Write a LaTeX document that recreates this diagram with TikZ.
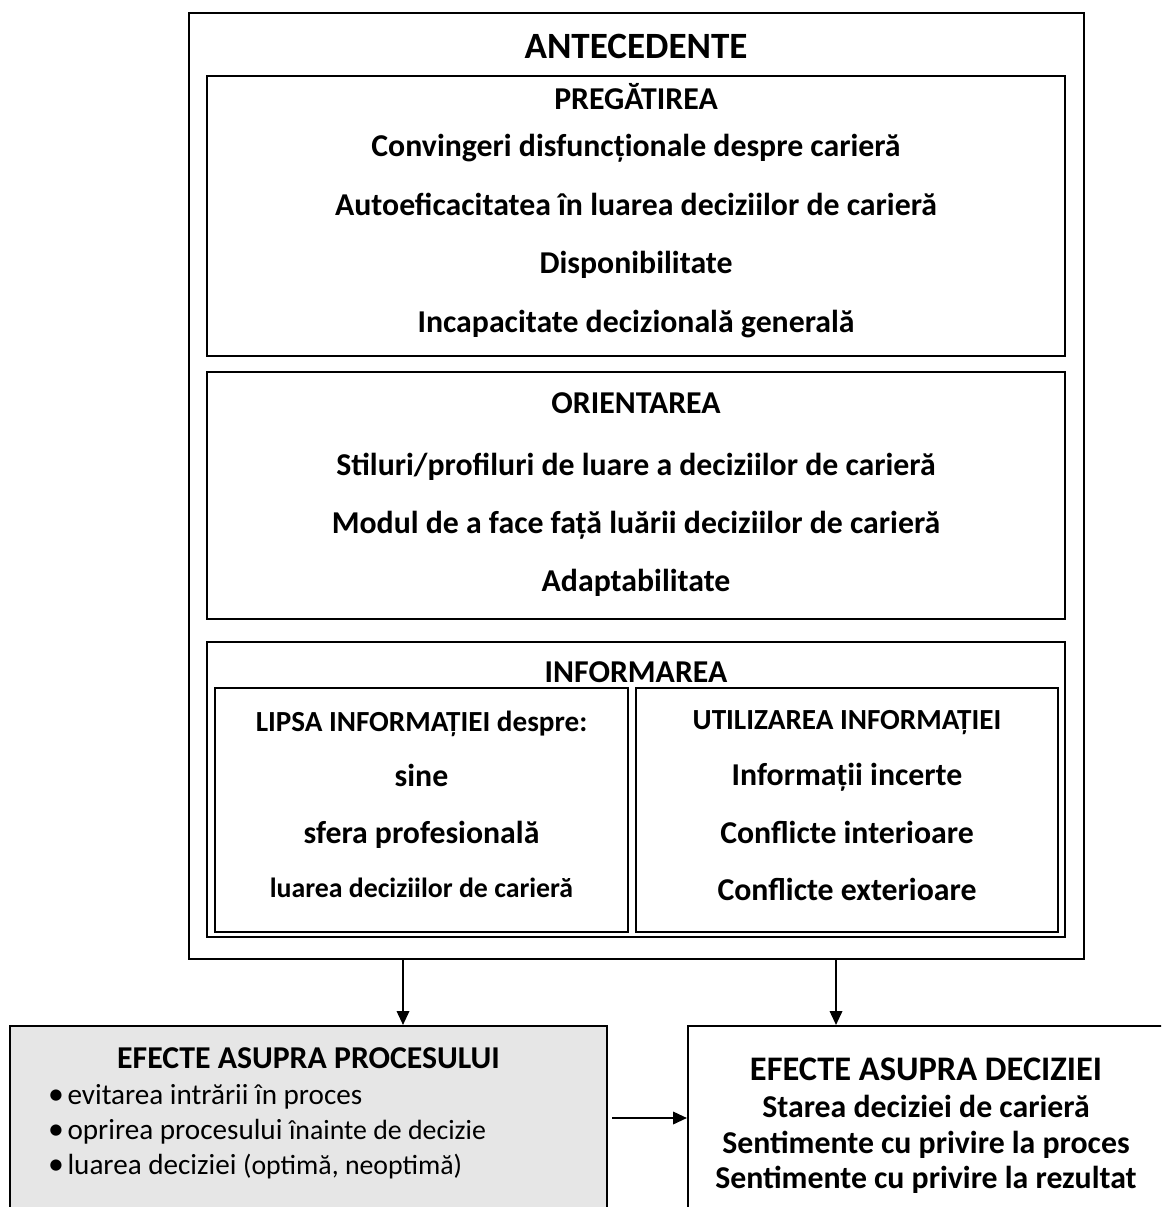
\documentclass[tikz,border=0pt]{standalone}
\usepackage{fontspec}
\setmainfont{Carlito}
\usetikzlibrary{fit,arrows.meta}
\definecolor{boxgray}{RGB}{230,230,230}
\begin{document}
\begin{tikzpicture}[x=0.3774pt,y=-0.3774pt,
  frame/.style={draw, line width=0.85pt, inner sep=0pt},
  lbl/.style={anchor=base, inner sep=0pt, font=\bfseries\fontsize{12}{14}\selectfont},
  lblsmall/.style={lbl, font=\bfseries\fontsize{11}{13}\selectfont},
  lbltiny/.style={lbl, font=\bfseries\fontsize{10.5}{12}\selectfont},
  head/.style={lbl, font=\bfseries\fontsize{13}{15}\selectfont},
  toptitle/.style={lbl, font=\bfseries\fontsize{14}{16}\selectfont},
  item/.style={anchor=base west, inner sep=0pt, font=\fontsize{11}{13}\selectfont},
  dot/.style={anchor=base, inner sep=0pt, font=\fontsize{12}{14}\selectfont},
  arr/.style={line width=0.4pt, -{Triangle[width=4.8pt,length=5.2pt]}}]
\useasboundingbox (0,0) rectangle (1161,1207);
\clip (0,0) rectangle (1161,1207);

% frames of the antecedents block
\node[frame, fit={(189,13) (1084,959)}] (antec) {};
\node[frame, fit={(207,76) (1065,356)}] (preg) {};
\node[frame, fit={(207,372) (1065,619)}] (orient) {};
\node[frame, fit={(207,642) (1065,937)}] (inform) {};
\node[frame, fit={(215,688) (628,932)}] (lipsa) {};
\node[frame, fit={(636,688) (1058,932)}] (util) {};

% effect boxes
\node[frame, fill=boxgray, fit={(10,1026) (607,1230)}] (proc) {};
\node[frame, fit={(688,1026) (1165,1230)}] (dec) {};

% texts: antecedents
\node[toptitle] (tAnte) at (636,59) {ANTECEDENTE};

\node[lbl] (tPreg) at (636,110) {PREGĂTIREA};
\node[lbl] (p1) at (636,157) {Convingeri disfuncționale despre carieră};
\node[lbl] (p2) at (636,216) {Autoeficacitatea în luarea deciziilor de carieră};
\node[lbl] (p3) at (636,274) {Disponibilitate};
\node[lbl] (p4) at (636,333) {Incapacitate decizională generală};

\node[lbl] (tOr) at (636,414) {ORIENTAREA};
\node[lbl] (o1) at (636,476) {Stiluri/profiluri de luare a deciziilor de carieră};
\node[lbl] (o2) at (636,534) {Modul de a face față luării deciziilor de carieră};
\node[lbl] (o3) at (636,592) {Adaptabilitate};

\node[lbl] (tInf) at (636,682) {INFORMAREA};
\node[lblsmall] (l0) at (421.5,731) {LIPSA INFORMAȚIEI despre:};
\node[lbl] (l1) at (421.5,786) {sine};
\node[lbl] (l2) at (421.5,843) {sfera profesională};
\node[lbltiny] (l3) at (421.5,897) {luarea deciziilor de carieră};

\node[lblsmall] (u0) at (847,729) {UTILIZAREA INFORMAȚIEI};
\node[lbl] (u1) at (847,785) {Informații incerte};
\node[lbl] (u2) at (847,843) {Conflicte interioare};
\node[lbl] (u3) at (847,900) {Conflicte exterioare};

% texts: effects on the process
\node[lbl] (tProc) at (308.5,1068) {EFECTE ASUPRA PROCESULUI};
\node[dot] (b1) at (56,1104) {•};
\node[item] (e1) at (67,1104) {evitarea intrării în proces};
\node[dot] (b2) at (56,1139) {•};
\node[item] (e2) at (67,1139) {oprirea procesului {\fontsize{10.5}{12}\selectfont înainte de decizie}};
\node[dot] (b3) at (56,1174) {•};
\node[item] (e3) at (67,1174) {luarea deciziei {\fontsize{10.5}{12}\selectfont (optimă, neoptimă)}};

% texts: effects on the decision
\node[head] (tDec) at (926,1080) {EFECTE ASUPRA DECIZIEI};
\node[lbl] (d1) at (926,1117) {Starea deciziei de carieră};
\node[lbl] (d2) at (926,1153) {Sentimente cu privire la proces};
\node[lbl] (d3) at (926,1188) {Sentimente cu privire la rezultat};

% connectors
\coordinate (ax1) at (403,0);
\coordinate (ax2) at (836,0);
\coordinate (ay) at (0,1118);
\draw[arr] (antec.south -| ax1) -- (proc.north -| ax1);
\draw[arr] (antec.south -| ax2) -- (dec.north -| ax2);
\draw[arr, shorten <=1.5pt] (proc.east |- ay) -- (dec.west |- ay);
\end{tikzpicture}
\end{document}
